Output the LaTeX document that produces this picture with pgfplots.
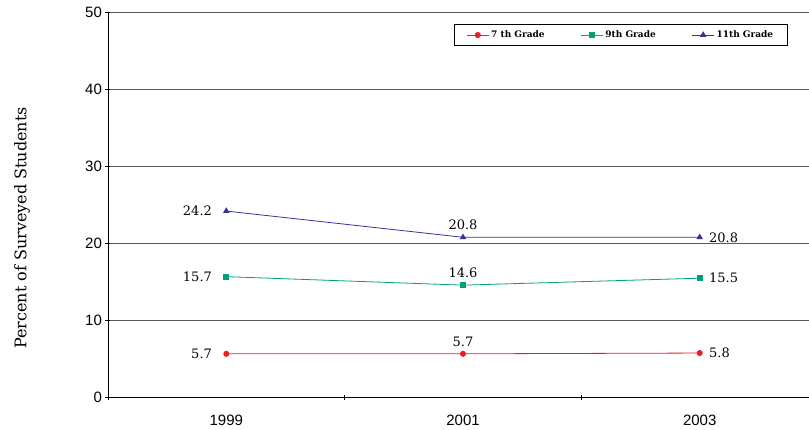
\documentclass[border=0pt]{standalone}
\usepackage{pgfplots}
\pgfplotsset{compat=1.18}
\usepackage{fontspec}
\setmainfont{DejaVu Serif}
\newfontfamily\arialfont{Liberation Sans}

\definecolor{gr7}{HTML}{ED1C24}
\definecolor{gr9}{HTML}{00A07A}
\definecolor{gr11}{HTML}{333399}

% label placement by point index: left of first, above middle, right of last
\pgfplotsset{
    /pgf/number format/assume math mode=true,
    lab0/.style={anchor=east, xshift=-14pt},
    lab1/.style={anchor=south, yshift=7pt},
    lab2/.style={anchor=west, xshift=9pt},
}

\begin{document}
\begin{tikzpicture}
\begin{axis}[
    scale only axis,
    width=701pt, height=386pt,
    xmin=-0.5, xmax=2.46,
    ymin=0, ymax=50,
    ytick={0,10,...,50},
    xtick={0,1,2},
    xticklabels={1999,2001,2003},
    minor xtick={-0.5,0.5,1.5},
    major x tick style={draw=none},
    tick align=outside,
    major tick length=5pt,
    minor tick length=5pt,
    axis x line=bottom,
    axis y line=left,
    axis line style={-, black, line width=0.8pt},
    tick style={black, line width=0.8pt},
    ymajorgrids,
    grid style={black!65, line width=0.8pt},
    ticklabel style={font=\arialfont\fontsize{15}{17}\selectfont},
    xticklabel style={yshift=-11pt},
    ylabel={Percent of Surveyed Students},
    every axis y label/.style={at={(axis description cs:0,0.44)}, xshift=-86pt,
        rotate=90, anchor=center, font=\fontsize{16}{18}\selectfont},
    clip=false,
    legend columns=3,
    legend style={at={(0.97,0.969)}, anchor=north east, draw=black, line width=0.8pt,
        font=\bfseries\fontsize{9}{11}\selectfont, inner xsep=12pt, inner ysep=4.5pt,
        /tikz/every even column/.append style={column sep=34pt}},
    legend image code/.code={
        \draw[#1, mark=none] (0pt,0pt) -- (22pt,0pt);
        \draw[#1, only marks] plot coordinates {(11pt,0pt)};
    },
    every axis plot/.append style={line width=0.8pt},
]
\addplot[gr7, mark=*, mark size=2.6pt,
    nodes near coords, point meta=y,
    visualization depends on={value \coordindex \as \idx},
    every node near coord/.append style={/pgfplots/lab\idx, inner sep=0pt,
        font=\fontsize{13}{15}\selectfont, black}]
    coordinates {(0,5.7) (1,5.7) (2,5.8)};
\addlegendentry{7 th Grade}
\addplot[gr9, mark=square*, mark size=2.5pt,
    nodes near coords, point meta=y,
    visualization depends on={value \coordindex \as \idx},
    every node near coord/.append style={/pgfplots/lab\idx, inner sep=0pt,
        font=\fontsize{13}{15}\selectfont, black}]
    coordinates {(0,15.7) (1,14.6) (2,15.5)};
\addlegendentry{9th Grade}
\addplot[gr11, mark=triangle*, mark size=3pt,
    nodes near coords, point meta=y,
    visualization depends on={value \coordindex \as \idx},
    every node near coord/.append style={/pgfplots/lab\idx, inner sep=0pt,
        font=\fontsize{13}{15}\selectfont, black}]
    coordinates {(0,24.2) (1,20.8) (2,20.8)};
\addlegendentry{11th Grade}
\path (rel axis cs:0,0) ++(-108pt,-32pt);
\path (rel axis cs:1,1) ++(0pt,12pt);
\end{axis}
\end{tikzpicture}
\end{document}
